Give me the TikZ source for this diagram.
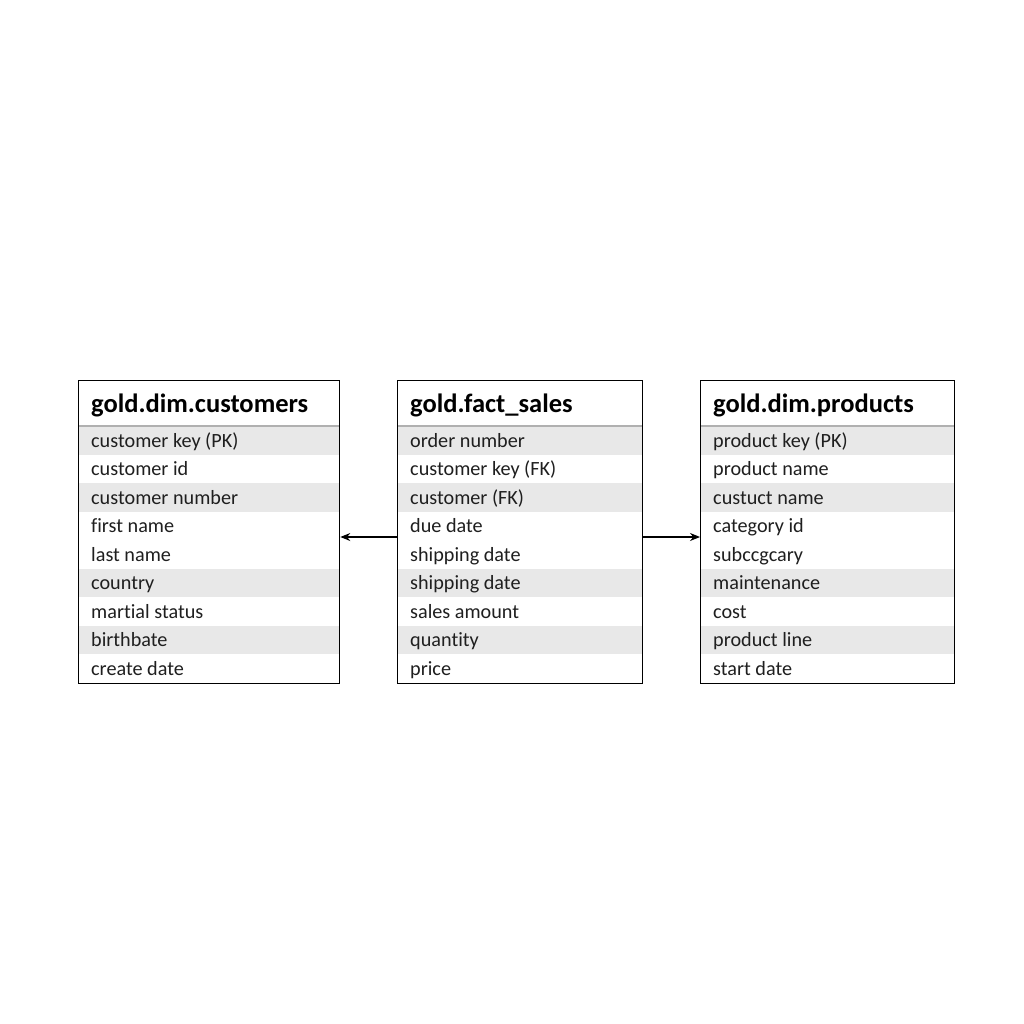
\documentclass[tikz,border=0pt]{standalone}
\usepackage{fontspec}
\setmainfont{Carlito}[Ligatures=NoCommon]
\usetikzlibrary{arrows.meta,calc}
\definecolor{rowshade}{HTML}{E8E8E8}
\definecolor{sepline}{HTML}{B0B0B0}
\tikzset{
  tablebox/.style={draw=black,line width=1.3pt,inner sep=0pt,anchor=north west},
  hdr/.style={anchor=base west,font=\fontsize{26.5}{30}\selectfont\bfseries,inner sep=0pt},
  rowtxt/.style={anchor=base west,font=\fontsize{20.2}{24}\selectfont,inner sep=0pt,text=black!88},
  rel/.style={line width=1.1pt,-{Stealth[length=10pt,width=8pt]}}
}
% #1 name, #2 left x, #3 width, #4 header, #5 list of rows
\newcommand{\ertable}[5]{%
  \fill[rowshade] (#2,426) rectangle ++(#3,28.55);
  \fill[rowshade] (#2,426+2*28.55) rectangle ++(#3,28.55);
  \fill[rowshade] (#2,426+5*28.55) rectangle ++(#3,28.55);
  \fill[rowshade] (#2,426+7*28.55) rectangle ++(#3,28.55);
  \draw[sepline,line width=1.2pt] (#2,426) -- ++(#3,0);
  \node[hdr] (#1h) at (#2+13,412) {#4};
  \foreach \t [count=\i] in {#5} {
    \node[rowtxt] (#1r\i) at (#2+13,426+\i*28.55-7.5) {\t};
  }
  \node[tablebox,minimum width=#3pt,minimum height=303pt] (#1) at (#2,380) {};
}
\begin{document}
\begin{tikzpicture}[x=1pt,y=-1pt]
\useasboundingbox[fill=white] (0,0) rectangle (1024,1024);
\ertable{cust}{78}{261}{gold.dim.customers}{customer key (PK),customer id,customer number,first name,last name,country,martial status,birthbate,create date}
\ertable{fact}{397}{245}{gold.fact\_sales}{order number,customer key (FK),customer (FK),due date,shipping date,shipping date,sales amount,quantity,price}
\ertable{prod}{700}{254}{gold.dim.products}{product key (PK),product name,custuct name,category id,subccgcary,maintenance,cost,product line,start date}
\coordinate (ay) at (0,537);
\draw[rel] (fact.west |- ay) -- (cust.east |- ay);
\draw[rel] (fact.east |- ay) -- (prod.west |- ay);
\end{tikzpicture}
\end{document}
